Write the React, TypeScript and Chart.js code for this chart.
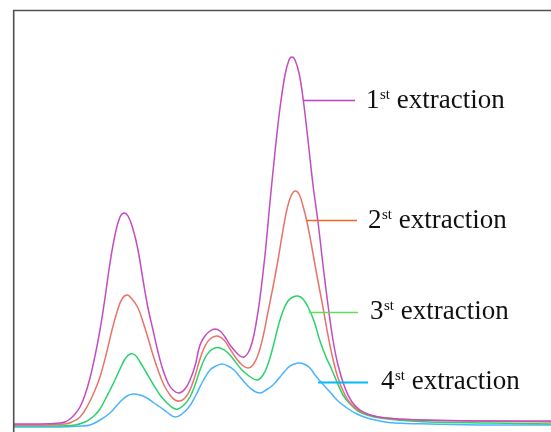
import React, { useEffect, useRef } from "react";
import { Chart, registerables } from "chart.js";

Chart.register(...registerables);

// Retention time (min) and detector response for each extraction
const time1 = [0.0, 0.52, 0.92, 1.02, 1.12, 1.22, 1.32, 1.42, 1.52, 1.62, 1.72, 1.82, 1.92, 2.02, 2.12, 2.2, 2.28, 2.38, 2.48, 2.58, 2.68, 2.78, 2.88, 2.98, 3.08, 3.18, 3.3, 3.42, 3.52, 3.62, 3.72, 3.82, 3.92, 4.02, 4.12, 4.22, 4.32, 4.42, 4.52, 4.6, 4.68, 4.76, 4.84, 4.92, 5.02, 5.12, 5.22, 5.32, 5.42, 5.5, 5.56, 5.62, 5.7, 5.78, 5.88, 5.98, 6.08, 6.18, 6.28, 6.38, 6.48, 6.62, 6.76, 6.92, 7.12, 7.42, 8.12, 9.32, 10.74];
const signal1 = [2.0, 2.0, 2.25, 2.5, 3.25, 4.5, 6.25, 9.25, 13.5, 19.0, 25.5, 33.5, 42.25, 49.25, 53.75, 54.75, 54.0, 50.75, 45.5, 38.0, 31.0, 25.5, 20.0, 15.5, 12.25, 10.5, 9.75, 10.75, 13.0, 16.5, 21.75, 24.0, 25.25, 25.75, 25.25, 23.75, 21.75, 20.25, 19.0, 18.75, 19.75, 22.25, 27.0, 33.5, 44.25, 57.5, 70.0, 81.0, 89.25, 93.0, 93.75, 93.0, 89.75, 83.5, 73.0, 61.75, 52.5, 41.75, 31.75, 23.0, 16.75, 11.0, 7.5, 5.5, 4.25, 3.5, 3.0, 2.75, 2.75];

const time2 = [0.0, 0.52, 1.02, 1.16, 1.32, 1.48, 1.62, 1.72, 1.84, 1.96, 2.06, 2.16, 2.26, 2.36, 2.48, 2.58, 2.68, 2.78, 2.88, 3.0, 3.12, 3.22, 3.32, 3.42, 3.52, 3.62, 3.72, 3.82, 3.92, 4.06, 4.2, 4.32, 4.44, 4.56, 4.68, 4.78, 4.88, 4.98, 5.08, 5.18, 5.28, 5.38, 5.46, 5.54, 5.62, 5.7, 5.78, 5.86, 5.96, 6.06, 6.16, 6.26, 6.36, 6.48, 6.62, 6.76, 6.92, 7.12, 7.42, 8.12, 9.32, 10.74];
const signal2 = [1.75, 1.75, 2.0, 2.5, 3.75, 6.75, 10.5, 13.75, 19.25, 25.5, 30.0, 33.25, 34.25, 33.25, 31.0, 27.5, 23.5, 19.25, 15.5, 11.75, 9.25, 8.0, 7.75, 8.5, 10.5, 14.0, 18.25, 21.5, 23.25, 24.0, 23.0, 20.75, 18.5, 16.75, 16.0, 16.75, 19.25, 23.75, 30.0, 36.25, 43.0, 50.5, 55.75, 59.0, 60.25, 59.5, 56.5, 52.5, 46.0, 39.0, 32.5, 25.5, 19.25, 13.5, 9.25, 6.75, 5.25, 4.25, 3.5, 3.0, 2.75, 2.5];

const time3 = [0.0, 0.72, 1.22, 1.42, 1.52, 1.62, 1.72, 1.82, 1.92, 2.02, 2.12, 2.22, 2.32, 2.42, 2.52, 2.64, 2.78, 2.92, 3.06, 3.18, 3.28, 3.4, 3.52, 3.62, 3.72, 3.82, 3.92, 4.02, 4.12, 4.26, 4.4, 4.54, 4.7, 4.86, 4.98, 5.08, 5.18, 5.28, 5.38, 5.48, 5.58, 5.68, 5.78, 5.88, 6.0, 6.12, 6.24, 6.36, 6.46, 6.58, 6.72, 6.88, 7.06, 7.32, 7.66, 8.32, 9.52, 10.74];
const signal3 = [1.5, 1.5, 1.75, 2.5, 3.25, 4.25, 5.75, 8.0, 10.5, 13.0, 15.75, 18.25, 19.5, 19.25, 17.5, 15.0, 12.0, 9.25, 7.25, 6.0, 5.75, 6.75, 8.75, 11.75, 15.5, 18.5, 20.25, 21.0, 21.0, 20.0, 18.0, 15.75, 14.0, 13.0, 14.25, 17.0, 21.25, 26.25, 30.25, 32.75, 33.75, 34.0, 33.25, 31.25, 27.75, 22.75, 18.75, 15.5, 12.5, 9.25, 7.0, 5.25, 4.25, 3.5, 3.0, 2.5, 2.25, 2.0];

const time4 = [0.0, 0.92, 1.32, 1.52, 1.72, 1.92, 2.12, 2.26, 2.38, 2.52, 2.66, 2.8, 2.92, 3.08, 3.22, 3.36, 3.5, 3.64, 3.78, 3.92, 4.04, 4.16, 4.28, 4.4, 4.52, 4.66, 4.8, 4.92, 5.04, 5.18, 5.32, 5.42, 5.52, 5.68, 5.8, 5.92, 6.02, 6.12, 6.32, 6.48, 6.66, 6.86, 7.06, 7.32, 7.62, 8.32, 9.52, 10.74];
const signal4 = [1.25, 1.25, 1.5, 1.75, 3.0, 4.75, 7.5, 9.0, 9.5, 9.25, 8.5, 7.25, 6.25, 4.75, 3.75, 4.5, 6.25, 9.25, 12.75, 15.5, 16.5, 17.0, 16.5, 15.5, 13.75, 11.75, 10.25, 9.75, 10.5, 11.75, 13.75, 15.25, 16.5, 17.25, 17.0, 16.0, 14.25, 12.75, 10.0, 7.75, 6.0, 4.5, 3.5, 2.75, 2.25, 2.0, 1.75, 1.75];

// Annotation labels
const labelNumbers = ["1", "2", "3", "4"];
const labelSuffix = ["st", "st", "st", "st"];
const labelWord = ["extraction", "extraction", "extraction", "extraction"];
// leader line: start time, end time, response level; text anchor time and baseline level
const leaderStart = [5.78, 5.86, 5.9, 6.08];
const leaderEnd = [6.82, 6.86, 6.88, 7.08];
const leaderLevel = [83.0, 53.0, 30.0, 12.5];
const textTime = [7.04, 7.08, 7.12, 7.34];
const textLevel = [81.0, 51.0, 28.25, 10.75];

const seriesColors = ["#c24cc2", "#e8736a", "#2bd26c", "#4ab4ff"];
const leaderColors = ["#bf40c8", "#f06428", "#5ee05e", "#00bcf2"];

const toPoints = (xs: number[], ys: number[]) => xs.map((x, i) => ({ x, y: ys[i] }));

const framePlugin = {
  id: "frame",
  afterDraw(chart: any) {
    const { ctx, chartArea } = chart;
    ctx.save();
    ctx.strokeStyle = "#505050";
    ctx.lineWidth = 1.6;
    ctx.beginPath();
    ctx.moveTo(chartArea.left - 0.3, chartArea.bottom + 2);
    ctx.lineTo(chartArea.left - 0.3, chartArea.top + 0.5);
    ctx.lineTo(chartArea.right, chartArea.top + 0.5);
    ctx.stroke();
    ctx.restore();
  },
};

const labelPlugin = {
  id: "extractionLabels",
  afterDatasetsDraw(chart: any) {
    const { ctx } = chart;
    const xs = chart.scales.x;
    const ys = chart.scales.y;
    ctx.save();
    for (let i = 0; i < labelNumbers.length; i++) {
      const y = Math.round(ys.getPixelForValue(leaderLevel[i])) + 0.5;
      ctx.strokeStyle = leaderColors[i];
      ctx.lineWidth = i === 3 ? 2 : 1.4;
      ctx.beginPath();
      ctx.moveTo(xs.getPixelForValue(leaderStart[i]), y);
      ctx.lineTo(xs.getPixelForValue(leaderEnd[i]), y);
      ctx.stroke();

      let tx = xs.getPixelForValue(textTime[i]);
      const ty = ys.getPixelForValue(textLevel[i]);
      ctx.fillStyle = "#111111";
      ctx.textBaseline = "alphabetic";
      ctx.textAlign = "left";
      ctx.font = "27px 'Liberation Serif', serif";
      ctx.fillText(labelNumbers[i], tx, ty);
      tx += ctx.measureText(labelNumbers[i]).width + 0.5;
      ctx.font = "15px 'Liberation Serif', serif";
      ctx.fillText(labelSuffix[i], tx, ty - 9);
      tx += ctx.measureText(labelSuffix[i]).width;
      ctx.font = "27px 'Liberation Serif', serif";
      tx += ctx.measureText(" ").width;
      ctx.fillText(labelWord[i], tx, ty);
    }
    ctx.restore();
  },
};

export default function App() {
  const canvasRef = useRef<HTMLCanvasElement | null>(null);

  useEffect(() => {
    if (!canvasRef.current) return;
    const series = [
      toPoints(time1, signal1),
      toPoints(time2, signal2),
      toPoints(time3, signal3),
      toPoints(time4, signal4),
    ];
    const chart = new Chart(canvasRef.current, {
      type: "line",
      data: {
        datasets: series.map((data, i) => ({
          label: `${labelNumbers[i]}${labelSuffix[i]} ${labelWord[i]}`,
          data,
          borderColor: seriesColors[i],
          borderWidth: 1.5,
          pointRadius: 0,
          fill: false,
          tension: 0.4,
        })),
      },
      options: {
        animation: false,
        responsive: false,
        maintainAspectRatio: false,
        layout: { padding: { left: 14, top: 10, right: 0, bottom: 0 } },
        plugins: { legend: { display: false }, tooltip: { enabled: false } },
        scales: {
          x: { type: "linear", min: 0, max: 10.74, display: false },
          y: { type: "linear", min: 0, max: 105.5, display: false },
        },
      },
      plugins: [framePlugin, labelPlugin],
    });
    return () => chart.destroy();
  }, []);

  return (
    <div style={{ position: "fixed", left: 0, top: 0, width: 551, height: 432, background: "#fff" }}>
      <canvas ref={canvasRef} width={551} height={432} style={{ display: "block" }} />
    </div>
  );
}
